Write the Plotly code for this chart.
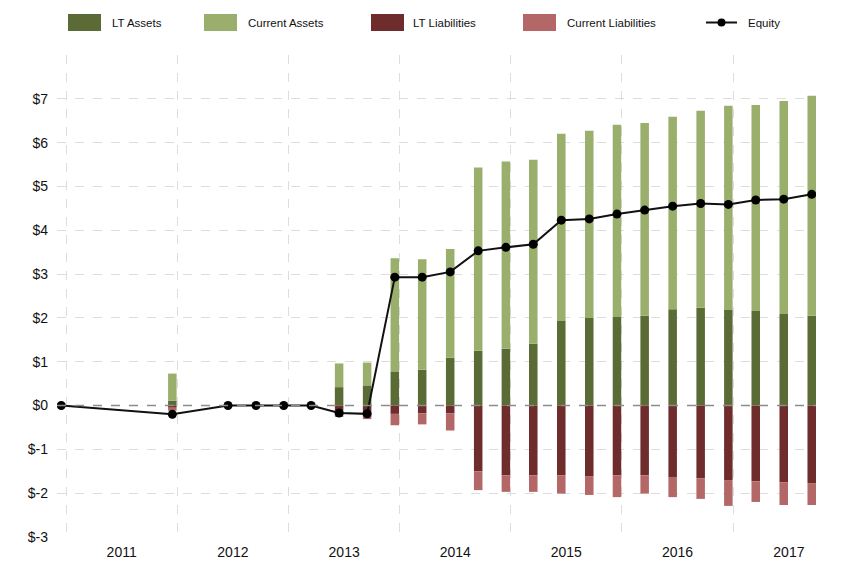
import plotly.graph_objects as go

dates = ["2010-12-16", "2011-12-16", "2012-06-16", "2012-09-16", "2012-12-16", "2013-03-16",
         "2013-06-16", "2013-09-16", "2013-12-16", "2014-03-16", "2014-06-16", "2014-09-16",
         "2014-12-16", "2015-03-16", "2015-06-16", "2015-09-16", "2015-12-16", "2016-03-16",
         "2016-06-16", "2016-09-16", "2016-12-16", "2017-03-16", "2017-06-16", "2017-09-16"]
lt_assets = [None, 0.11, None, None, None, None, 0.42, 0.46, 0.78, 0.82, 1.09, 1.25,
             1.30, 1.41, 1.93, 2.00, 2.02, 2.05, 2.20, 2.23, 2.18, 2.16, 2.09, 2.05]
current_assets = [None, 0.62, None, None, None, None, 0.54, 0.52, 2.58, 2.52, 2.48, 4.18,
                  4.27, 4.20, 4.27, 4.27, 4.39, 4.40, 4.39, 4.50, 4.66, 4.70, 4.86, 5.02]
lt_liabilities = [None, -0.05, None, None, None, None, -0.12, -0.17, -0.19, -0.18, -0.18, -1.50,
                  -1.59, -1.59, -1.59, -1.61, -1.59, -1.59, -1.63, -1.66, -1.70, -1.73, -1.75, -1.77]
current_liabilities = [None, -0.07, None, None, None, None, -0.14, -0.14, -0.26, -0.25, -0.39, -0.43,
                       -0.38, -0.38, -0.42, -0.43, -0.50, -0.42, -0.46, -0.47, -0.59, -0.47, -0.52, -0.50]
equity = [0.0, -0.20, 0.0, 0.0, 0.0, 0.0, -0.17, -0.19, 2.93, 2.93, 3.05, 3.53,
          3.61, 3.68, 4.23, 4.26, 4.37, 4.46, 4.55, 4.61, 4.59, 4.69, 4.71, 4.82]

series_names = ["LT Assets", "Current Assets", "LT Liabilities", "Current Liabilities"]
series_values = [lt_assets, current_assets, lt_liabilities, current_liabilities]
series_colors = ["#5b6b35", "#9aaf6b", "#6e2c2c", "#b46767"]

y_tick_vals = [-3, -2, -1, 0, 1, 2, 3, 4, 5, 6, 7, 8]
y_tick_text = ["$-3", "$-2", "$-1", "$0", "$1", "$2", "$3", "$4", "$5", "$6", "$7", ""]

# page body has an 8px default margin
OFF = 8
W, H = 850, 561
ML, MT = 57 - OFF, 55 - OFF
PW, PH = 816 - 57, 537 - 55
MR, MB = W - ML - PW, H - MT - PH

FONT = "Liberation Sans"
BAR_W = 28 * 86400000

fig = go.Figure()
for name, vals, col in zip(series_names, series_values, series_colors):
    fig.add_trace(go.Bar(x=dates, y=vals, name=name, marker=dict(color=col, line=dict(width=0)),
                         width=BAR_W, showlegend=False))

fig.add_trace(go.Scatter(x=dates, y=equity, name="Equity", mode="lines+markers",
                         line=dict(color="#111111", width=2),
                         marker=dict(color="#000000", size=9), showlegend=False))

def px_x(px):
    return (px - OFF - ML) / PW

def px_y(py):
    return (MT + PH - (py - OFF)) / PH

shapes = [dict(type="line", xref="paper", yref="y", x0=0, x1=1, y0=0, y1=0,
               line=dict(color="#8c8c8c", width=1.5, dash="dash"), layer="above")]
annotations = []

legend_boxes = [(68, 110), (204, 246), (371, 411), (523, 565)]
for (bx, tx), name, col in zip(legend_boxes, series_names, series_colors):
    shapes.append(dict(type="rect", xref="paper", yref="paper",
                       x0=px_x(bx), x1=px_x(bx + 33), y0=px_y(31), y1=px_y(14),
                       fillcolor=col, line=dict(width=0)))
    annotations.append(dict(xref="paper", yref="paper", x=px_x(tx), y=px_y(22.5),
                            text=name, showarrow=False, xanchor="left", yanchor="middle",
                            font=dict(family=FONT, size=11.5, color="#111111")))
# Equity legend
shapes.append(dict(type="line", xref="paper", yref="paper", x0=px_x(706), x1=px_x(737),
                   y0=px_y(22.5), y1=px_y(22.5), line=dict(color="#111111", width=2)))
shapes.append(dict(type="circle", xref="paper", yref="paper", x0=px_x(717.5), x1=px_x(725.5),
                   y0=px_y(26.5), y1=px_y(18.5), fillcolor="#000000", line=dict(width=0)))
annotations.append(dict(xref="paper", yref="paper", x=px_x(746), y=px_y(22.5),
                        text="Equity", showarrow=False, xanchor="left", yanchor="middle",
                        font=dict(family=FONT, size=11.5, color="#111111")))

fig.update_layout(
    width=W, height=H,
    margin=dict(l=ML, r=MR, t=MT, b=MB, pad=0, autoexpand=False),
    barmode="relative",
    plot_bgcolor="#ffffff", paper_bgcolor="#ffffff",
    font=dict(family=FONT, size=14, color="#222222"),
    shapes=shapes, annotations=annotations,
    showlegend=False,
    xaxis=dict(type="date", range=["2010-12-02", "2017-09-30"], automargin=False,
               tick0="2011-01-01", dtick="M12", tickformat="%Y", ticklabelmode="period",
               showgrid=True, gridcolor="#dddddd", griddash="dash", gridwidth=1,
               zeroline=False, showline=False, ticks="", ticklabelstandoff=5,
               tickfont=dict(family=FONT, size=14, color="#111111")),
    yaxis=dict(range=[-3, 8], tickmode="array", tickvals=y_tick_vals, ticktext=y_tick_text,
               automargin=False,
               showgrid=True, gridcolor="#dddddd", griddash="dash", gridwidth=1,
               zeroline=False, showline=False, ticks="", ticklabelstandoff=8,
               tickfont=dict(family=FONT, size=14, color="#111111")),
)

fig.write_html("out.html")
